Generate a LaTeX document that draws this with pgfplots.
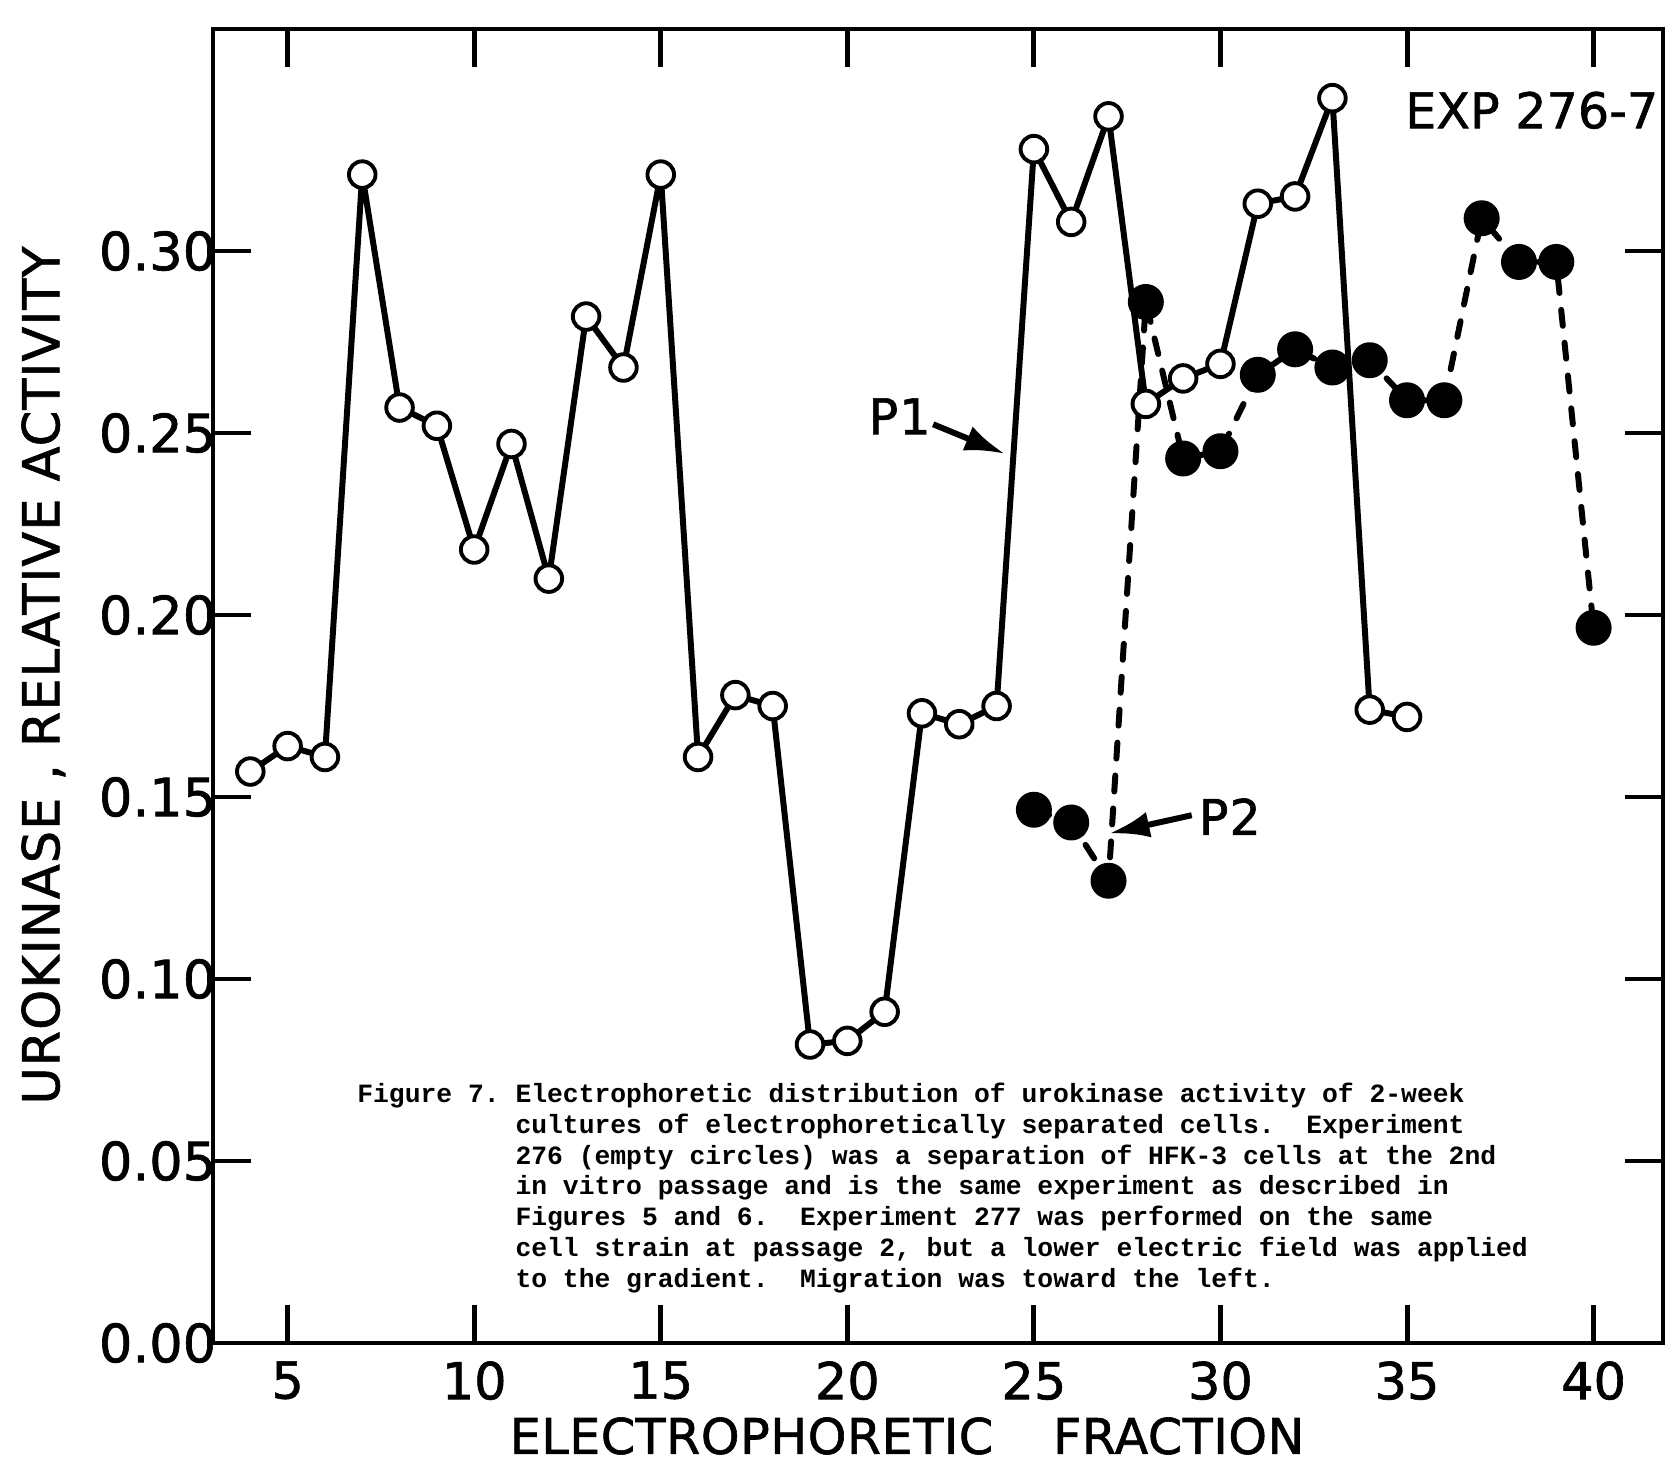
\documentclass[border=0pt]{standalone}
\usepackage{pgfplots}
\pgfplotsset{compat=1.18}
\usepackage{fontspec}
\setmainfont{DejaVu Sans}[FakeBold=1.2]
\newfontfamily\lbl{DejaVu Sans}[FakeBold=1.2,LetterSpace=2]
\newfontfamily\xlbl{DejaVu Sans}[FakeBold=1.2,LetterSpace=1]
\newfontfamily\capfont{Liberation Mono}
\usetikzlibrary{arrows.meta,calc}
\begin{document}
\begin{tikzpicture}
\begin{axis}[
  scale only axis, width=145mm, height=131.4mm,
  xmin=3, xmax=41.86, ymin=0, ymax=0.361,
  axis line style={line width=1.4pt},
  tick style={line width=1.4pt, black},
  tick align=inside, major tick length=3.8mm,
  xtick={5,10,...,40},
  ytick={0,0.05,0.1,0.15,0.2,0.25,0.3},
  /pgf/number format/assume math mode=true,
  xticklabel style={font=\fontsize{14.5}{17}\selectfont, yshift=-0.6mm},
  yticklabel style={font=\fontsize{15}{18}\selectfont, inner xsep=0.4mm, xshift=0.8mm, /pgf/number format/.cd, fixed, fixed zerofill, precision=2},
  xlabel={ELECTROPHORETIC\hspace{6mm}FRACTION},
  ylabel={UROKINASE , RELATIVE ACTIVITY},
  xlabel style={font=\xlbl\fontsize{14}{17}\selectfont, at={(axis cs:21.6,0)}, anchor=center, yshift=-9.3mm},
  ylabel style={font=\lbl\fontsize{14.5}{17}\selectfont, at={(axis description cs:-0.117,0.508)}, anchor=center},
  clip=false,
]
\addplot[line width=1.7pt, line join=round, mark=*, mark size=1.33mm, mark options={fill=white, line width=1.1pt}] coordinates {
(4,0.157)(5,0.164)(6,0.161)(7,0.321)(8,0.257)(9,0.252)(10,0.218)(11,0.247)
(12,0.210)(13,0.282)(14,0.268)(15,0.321)(16,0.161)(17,0.178)(18,0.175)(19,0.082)
(20,0.083)(21,0.091)(22,0.173)(23,0.170)(24,0.175)(25,0.328)(26,0.308)(27,0.337)
(28,0.258)(29,0.265)(30,0.269)(31,0.313)(32,0.315)(33,0.342)(34,0.174)(35,0.172)};
\addplot[line width=1.7pt, line join=round, line cap=round, dash pattern=on 1.6mm off 1.7mm, mark=*, mark size=1.5mm, mark options={solid, fill=black}] coordinates {
(25,0.1465)(26,0.143)(27,0.127)(28,0.286)(29,0.243)(30,0.245)(31,0.266)(32,0.273)
(33,0.268)(34,0.270)(35,0.259)(36,0.259)(37,0.309)(38,0.297)(39,0.297)(40,0.1965)};
\node[font=\lbl\fontsize{14}{17}\selectfont] at (axis cs:21.4,0.2546) {P1};
\draw[line width=1.7pt, -{Latex[length=4mm,width=2.6mm]}] (axis cs:22.3,0.2524) -- (axis cs:24.22,0.2443);
\node[font=\lbl\fontsize{14}{17}\selectfont] at (axis cs:30.25,0.1446) {P2};
\draw[line width=1.7pt, -{Latex[length=4mm,width=2.6mm]}] (axis cs:29.23,0.145) -- (axis cs:27.03,0.140);
\node[anchor=north east, inner sep=0pt, xshift=-0.4mm, yshift=-6.2mm, font=\rmfamily\fontsize{14}{17}\selectfont] at (rel axis cs:1,1) {EXP 276-7};
\node[anchor=north west, inner sep=0pt, font=\capfont\bfseries\fontsize{7.5}{8.8}\selectfont] at (axis cs:6.85,0.0723) {%
\begin{tabular}{@{}l@{\hspace{0.6em}}l@{}}
Figure 7. & Electrophoretic distribution of urokinase activity of 2-week\\
& cultures of electrophoretically separated cells.\ \ Experiment\\
& 276 (empty circles) was a separation of HFK-3 cells at the 2nd\\
& in vitro passage and is the same experiment as described in\\
& Figures 5 and 6.\ \ Experiment 277 was performed on the same\\
& cell strain at passage 2, but a lower electric field was applied\\
& to the gradient.\ \ Migration was toward the left.
\end{tabular}};
\end{axis}
\pgfresetboundingbox
\path[use as bounding box] ($(current axis.south west)+(-21.3mm,-12mm)$) rectangle ($(current axis.north east)+(1.6mm,2.9mm)$);
\end{tikzpicture}
\end{document}
